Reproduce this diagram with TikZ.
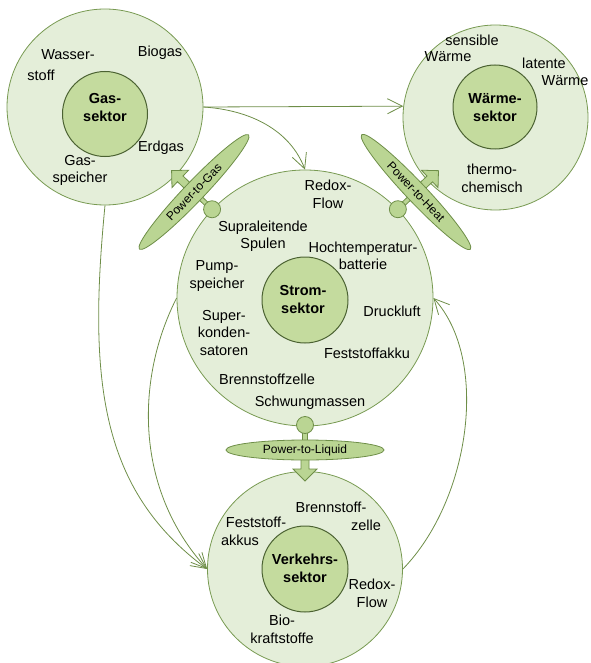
\documentclass[tikz,border=0pt]{standalone}
\usepackage{fontspec}
\setmainfont{Liberation Sans}
\usetikzlibrary{arrows.meta}
\definecolor{outerfill}{HTML}{E4EED9}
\definecolor{innerfill}{HTML}{C4DB9E}
\definecolor{outerline}{HTML}{789A52}
\definecolor{innerline}{HTML}{4B6232}
\definecolor{conline}{HTML}{6E8E48}
\definecolor{pxfill}{HTML}{BAD593}
\begin{document}
\begin{tikzpicture}[x=1pt,y=-1pt,
  outercirc/.style={circle, draw=outerline, fill=outerfill, line width=0.8pt, inner sep=0pt, minimum size=#1},
  innercirc/.style={circle, draw=innerline, fill=innerfill, line width=1pt, inner sep=0pt, minimum size=#1},
  lbl/.style={inner sep=0pt, align=center, font=\fontsize{14.5}{17.5}\selectfont},
  sectorlbl/.style={inner sep=0pt, align=center, font=\fontsize{14.5}{18}\selectfont\bfseries},
  flow/.style={draw=conline, line width=0.8pt, -{Straight Barb[length=15pt,width=15pt]}},
  pxlbl/.style={inner sep=0pt, font=\fontsize{12}{14}\selectfont},
  pxpart/.style={draw=conline, fill=pxfill, line width=0.8pt},
  ptox/.pic={
    \path[pxpart] (-25,-2.2) rectangle (-8,2.2);
    \path[pxpart] (-25,0) circle (8.5);
    \path[pxpart] (5,-4) -- (19,-4) -- (19,-12) -- (31,0) -- (19,12) -- (19,4) -- (5,4) -- cycle;
    \path[pxpart] (0,0) ellipse [x radius=10, y radius=79];
  }
]
\useasboundingbox (0,0) rectangle (590,663);

% outer circles
\node[outercirc=196pt] (gasO) at (105,107) {};
\node[outercirc=185pt] (waeO) at (495.5,117.5) {};
\node[outercirc=256pt] (stromO) at (305,298) {};
\node[outercirc=195pt] (verO) at (305,569) {};
% inner circles
\node[innercirc=85pt] (gasI) at (105,114) {};
\node[innercirc=84pt] (waeI) at (495,107) {};
\node[innercirc=86pt] (stromI) at (305,300) {};
\node[innercirc=86pt] (verI) at (305,569) {};

% sector labels
\node[sectorlbl] (gasT) at (105,107.5) {Gas-\\sektor};
\node[sectorlbl] (waeT) at (495,107.5) {Wärme-\\sektor};
\node[sectorlbl] (stromT) at (303,300) {Strom-\\sektor};
\node[sectorlbl] (verT) at (305,568) {Verkehrs-\\sektor};

% gas labels
\node[lbl] (l1) at (68,55) {Wasser-};
\node[lbl] (l2) at (41,75) {stoff};
\node[lbl] (l3) at (160,53) {Biogas};
\node[lbl] (l4) at (161,148) {Erdgas};
\node[lbl] (l5) at (80,170.5) {Gas-\\speicher};
% heat labels
\node[lbl] (l6) at (472,40) {sensible};
\node[lbl] (l7) at (448,57) {Wärme};
\node[lbl] (l8) at (544,63) {latente};
\node[lbl] (l9) at (565,81) {Wärme};
\node[lbl] (l10) at (492,178.5) {thermo-\\chemisch};
% power labels
\node[lbl] (l11) at (328,194.5) {Redox-\\Flow};
\node[lbl] (l12) at (263,236) {Supraleitende\\Spulen};
\node[lbl] (l13) at (363,256) {Hochtemperatur-\\batterie};
\node[lbl] (l14) at (217,276) {Pump-\\speicher};
\node[lbl] (l15) at (392,311) {Druckluft};
\node[lbl] (l16) at (224,333) {Super-\\konden-\\satoren};
\node[lbl] (l17) at (367,353) {Feststoffakku};
\node[lbl] (l18) at (267,379) {Brennstoffzelle};
\node[lbl] (l19) at (310,403) {Schwungmassen};
% transport labels
\node[lbl] (l20) at (331,507) {Brennstoff-};
\node[lbl] (l21) at (366,525) {zelle};
\node[lbl] (l22) at (256,522) {Feststoff-};
\node[lbl] (l23) at (240,540) {akkus};
\node[lbl] (l24) at (372,593.5) {Redox-\\Flow};
\node[lbl] (l25) at (282,629.5) {Bio-\\kraftstoffe};

% connectors
\draw[flow] (gasO.east) -- (waeO.173.5);
\draw[flow] (gasO.east) .. controls (250,110) and (290,130) .. (stromO.north);
\draw[flow] (gasO.south) .. controls (88,380) and (100,490) .. (verO.west);
\draw[flow] (stromO.west) .. controls (135,380) and (135,490) .. (verO.west);
\draw[flow] (verO.east) .. controls (470,500) and (490,360) .. (stromO.east);

% power-to-X couplings
\pic[rotate=136.3] at (194,192) {ptox};
\pic[rotate=43.5] at (416,192) {ptox};
\pic[rotate=-90] at (305,450) {ptox};
\node[pxlbl, rotate=46.3] (ptgL) at (194,192) {Power-to-Gas};
\node[pxlbl, rotate=-46.5] (pthL) at (416,192) {Power-to-Heat};
\node[pxlbl] (ptlL) at (305,450) {Power-to-Liquid};
\end{tikzpicture}
\end{document}
